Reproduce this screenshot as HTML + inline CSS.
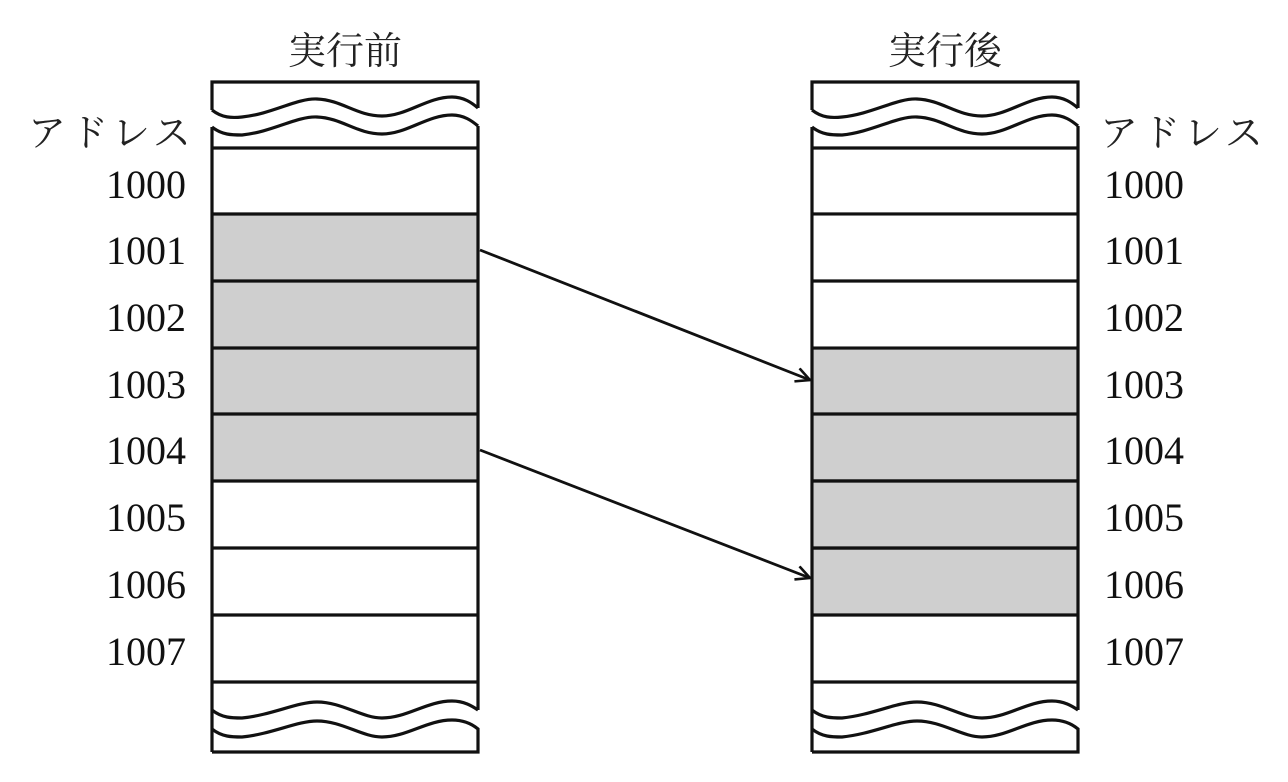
<!DOCTYPE html>
<html><head><meta charset="utf-8"><style>
html,body{margin:0;padding:0;background:#fff;}
svg{display:block;}
.n{font-family:"Liberation Serif",serif;font-size:40px;fill:#111;}
.j{font-family:"Liberation Sans","Noto Serif CJK SC","Noto Sans CJK JP",sans-serif;font-size:38px;fill:#222;}
</style></head><body>
<svg width="1288" height="782" viewBox="0 0 1288 782" xmlns="http://www.w3.org/2000/svg">
<defs>
<marker id="ah" markerWidth="20" markerHeight="20" refX="16" refY="8" orient="auto" markerUnits="userSpaceOnUse">
<path d="M2,1 L16,8 L2,15" fill="none" stroke="#111" stroke-width="2.6"/>
</marker>
<g id="col">
<rect x="0" y="214" width="266" height="267" fill="#cfcfcf"/>
<path d="M0,110 L0,82 L266,82 L266,108" fill="none" stroke="#111" stroke-width="3.2"/>
<path d="M0,110 C10,118 20,118 30,117 C60,114 85,98 105,99 C130,100 145,116 170,116 C195,116 215,97 240,97 C252,97 260,103 266,108" fill="none" stroke="#111" stroke-width="3.2"/>
<path d="M0,127 C10,135 20,135 30,135 C60,132 85,116 105,117 C130,118 145,134 170,134 C195,134 215,115 240,115 C252,115 260,121 266,126" fill="none" stroke="#111" stroke-width="3.2"/>
<path d="M0,127 L0,752" fill="none" stroke="#111" stroke-width="3.2"/>
<path d="M266,126 L266,710" fill="none" stroke="#111" stroke-width="3.2"/>
<g stroke="#111" stroke-width="3.2">
<line x1="0" y1="148" x2="266" y2="148"/>
<line x1="0" y1="214" x2="266" y2="214"/>
<line x1="0" y1="281" x2="266" y2="281"/>
<line x1="0" y1="348" x2="266" y2="348"/>
<line x1="0" y1="414" x2="266" y2="414"/>
<line x1="0" y1="481" x2="266" y2="481"/>
<line x1="0" y1="548" x2="266" y2="548"/>
<line x1="0" y1="615" x2="266" y2="615"/>
<line x1="0" y1="682" x2="266" y2="682"/>
</g>
<path d="M0,710 C10,718 20,718 30,718 C60,715 85,702 105,702 C130,702 150,718 170,718 C195,718 215,701 240,701 C252,701 260,706 266,710" fill="none" stroke="#111" stroke-width="3.2"/>
<path d="M0,729 C10,737 20,737 30,737 C60,734 85,721 105,721 C130,721 150,737 170,737 C195,737 215,720 240,720 C252,720 260,724 266,729 L266,752 L0,752" fill="none" stroke="#111" stroke-width="3.2"/>
</g>
</defs>
<use href="#col" x="212"/>
<g transform="translate(812,0)">
<rect x="0" y="348" width="266" height="267" fill="#cfcfcf"/>
</g>
<use href="#col" x="812"/>
<rect x="813.6" y="215.6" width="262.8" height="130.8" fill="#fff"/>
<g stroke="#111" stroke-width="3.2"><line x1="812" y1="281" x2="1078" y2="281"/></g>
<rect x="813.6" y="482.6" width="262.8" height="63.8" fill="#cfcfcf"/>
<g stroke="#111" stroke-width="3.2"><line x1="812" y1="481" x2="1078" y2="481"/><line x1="812" y1="548" x2="1078" y2="548"/></g>

<line x1="480" y1="250" x2="810" y2="380" stroke="#111" stroke-width="2.8" marker-end="url(#ah)"/>
<line x1="480" y1="450" x2="810" y2="578" stroke="#111" stroke-width="2.8" marker-end="url(#ah)"/>

<text class="j" x="345" y="64" text-anchor="middle">実行前</text>
<text class="j" x="945" y="64" text-anchor="middle">実行後</text>
<text class="j" x="28" y="146" letter-spacing="4">アドレス</text>
<text class="j" x="1100" y="146" letter-spacing="4">アドレス</text>

<g class="n" text-anchor="end">
<text x="186" y="198">1000</text>
<text x="186" y="264">1001</text>
<text x="186" y="331">1002</text>
<text x="186" y="398">1003</text>
<text x="186" y="464">1004</text>
<text x="186" y="531">1005</text>
<text x="186" y="598">1006</text>
<text x="186" y="665">1007</text>
</g>
<g class="n">
<text x="1104" y="198">1000</text>
<text x="1104" y="264">1001</text>
<text x="1104" y="331">1002</text>
<text x="1104" y="398">1003</text>
<text x="1104" y="464">1004</text>
<text x="1104" y="531">1005</text>
<text x="1104" y="598">1006</text>
<text x="1104" y="665">1007</text>
</g>
</svg>
</body></html>
